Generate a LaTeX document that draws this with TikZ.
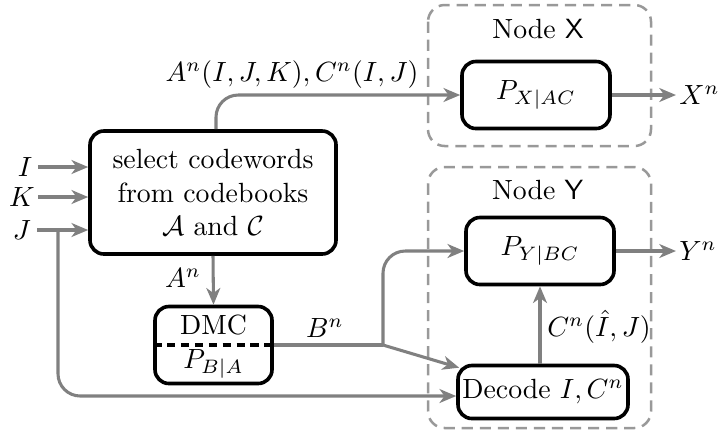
\documentclass[tikz,border=0pt]{standalone}
\usetikzlibrary{arrows.meta,calc}
\begin{document}
\begin{tikzpicture}[x=0.36pt,y=-0.36pt,
  blk/.style={draw=black,line width=1.3pt,rounded corners=5pt,align=center,inner sep=0pt},
  arr/.style={draw=gray,line width=1.1pt,-{Stealth[length=6pt,width=5pt,inset=1.8pt]}},
  ln/.style={draw=gray,line width=1.1pt},
  grp/.style={draw=gray!80,line width=0.9pt,dash pattern=on 4pt off 2.5pt,rounded corners=6pt},
  lbl/.style={inner sep=1pt}]
\useasboundingbox (0,0) rectangle (720,435);
% group boxes
\draw[grp] (428,5) rectangle (651,146);
\draw[grp] (428,167) rectangle (651,428);
\node[lbl] (nx) at (538,29) {Node $\mathsf{X}$};
\node[lbl] (ny) at (538,190) {Node $\mathsf{Y}$};
% blocks
\node[blk,minimum width=246*0.36pt,minimum height=123*0.36pt] (enc) at (213,192.5)
  {select codewords\\from codebooks\\$\mathcal{A}$ and $\mathcal{C}$};
\node[blk,minimum width=148*0.36pt,minimum height=67*0.36pt] (px) at (536,95) {$P_{X|AC}$};
\node[blk,minimum width=148*0.36pt,minimum height=67*0.36pt] (py) at (540,251) {$P_{Y|BC}$};
\node[blk,minimum width=170*0.36pt,minimum height=53*0.36pt] (dec) at (543,392) {Decode $I,C^n$};
\node[blk,minimum width=117*0.36pt,minimum height=77*0.36pt] (dmc) at (213.5,345) {};
\node[lbl] (dmct) at (213.5,325) {DMC};
\node[lbl] (dmcp) at (213.5,364) {$P_{B|A}$};
\draw[black,line width=1.3pt,dash pattern=on 3pt off 2pt] (dmc.west) -- (dmc.east);
% inputs
\node[lbl] (i) at (25,167) {$I$};
\node[lbl] (k) at (22,197) {$K$};
\node[lbl] (j) at (22,230) {$J$};
\draw[arr] (i.east) ++(1pt,0) -- (enc.west |- i.east);
\draw[arr] (k.east) -- (enc.west |- k.east);
\draw[arr] (j.east) ++(1pt,0) -- (enc.west |- j.east);
\coordinate (jb) at (58,230);
\coordinate (jd) at (58,396);
\draw[arr,rounded corners=8pt] (jb) -- (jd) -- (dec.west |- jd);
% top output
\draw[arr,rounded corners=8pt] ($(enc.north)+(3,0)$) |- (px.west);
\node[lbl] (lab1) at (292,75) {$A^n(I,J,K),C^n(I,J)$};
% outputs
\node[lbl,anchor=west] (xn) at (676,95) {$X^n$};
\draw[arr] (px.east) -- (xn.west);
\node[lbl,anchor=west] (yn) at (676,251) {$Y^n$};
\draw[arr] (py.east) -- (yn.west);
% A^n
\draw[arr] (enc.south) -- (dmc.north);
\node[lbl] (an) at (183,278) {$A^n$};
% B^n
\coordinate (br) at (383,345);
\draw[ln] (dmc.east) -- (br);
\node[lbl] (bn) at (325,328) {$B^n$};
\draw[arr,rounded corners=8pt] (br) |- (py.west);
\draw[arr] (br) -- ($(dec.north west)+(3,4)$);
% decode to P_Y
\draw[arr] (dec.north -| py.south) -- (py.south);
\node[lbl,anchor=west] (cn) at (544,327) {$C^n(\hat{I},J)$};
\end{tikzpicture}
\end{document}
